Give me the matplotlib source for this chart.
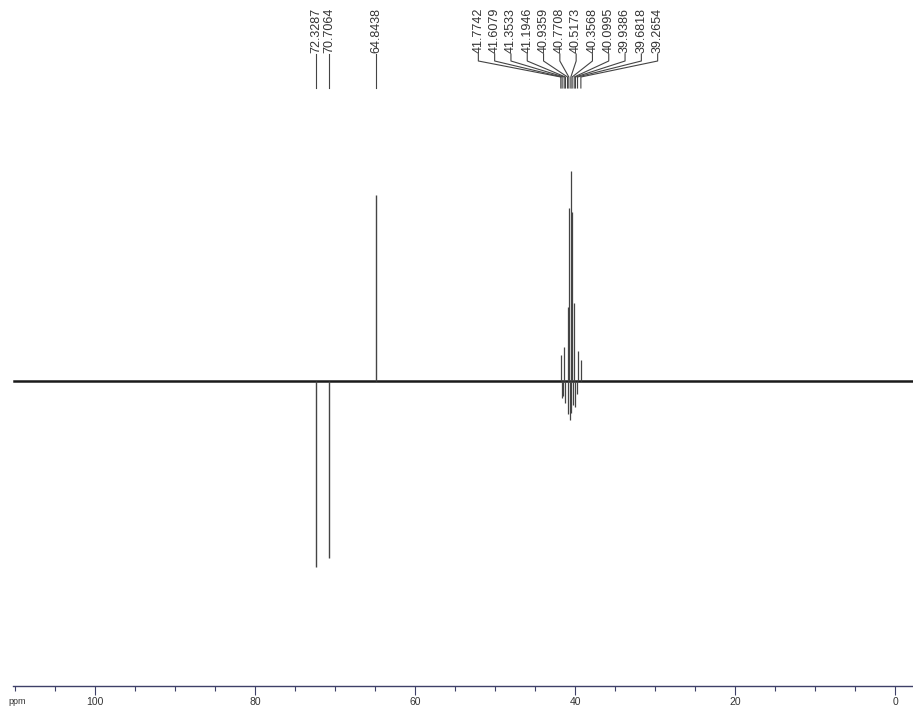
import matplotlib
matplotlib.use("Agg")
import matplotlib.pyplot as plt
from matplotlib.ticker import MultipleLocator

plt.rcParams["font.family"] = ["Liberation Sans", "DejaVu Sans"]

# single resonances (ppm, relative intensity; DEPT phase gives the sign)
single_ppm = [72.3287, 70.7064, 64.8438]
single_int = [-100, -95, 100]

# solvent multiplet, labelled lines
multi_ppm = [41.7742, 41.6079, 41.3533, 41.1946, 40.9359, 40.7708,
             40.5173, 40.3568, 40.0995, 39.9386, 39.6818, 39.2654]
multi_int = [14, -9, 18, -12, 40, 93, 113, 91, 42, -14, 16, 11]
# unlabelled negative components of the multiplet
neg_ppm = [41.45, 40.85, 40.64, 40.45, 40.22, 39.80]
neg_int = [-8, -18, -21, -17, -13, -7]

INK = "#1a1a1a"
LINE = "#444444"
AXIS = "#3e4068"
TXT = "#333333"

W, H = 913, 711
fig = plt.figure(figsize=(W / 100, H / 100), dpi=100)
fig.patch.set_facecolor("white")
ax = fig.add_axes([13 / W, 25 / H, 900 / W, 686 / H])
ax.set_xlim(110.25, -2.25)
ax.set_ylim(-164, 204.8)

for s in ("left", "right", "top"):
    ax.spines[s].set_visible(False)
ax.spines["bottom"].set_color(AXIS)
ax.spines["bottom"].set_linewidth(1.0)
ax.set_yticks([])
ax.xaxis.set_major_locator(MultipleLocator(20))
ax.xaxis.set_minor_locator(MultipleLocator(5))
ax.tick_params(axis="x", which="major", length=6.5, width=0.8, pad=1.5,
               labelsize=7.5, color=AXIS, labelcolor=TXT)
ax.tick_params(axis="x", which="minor", length=3.6, width=0.8, color=AXIS)
fig.text(17 / W, 1 - 701 / H, "ppm", fontsize=6.5, color=TXT,
         ha="center", va="center")

# baseline (noisy-looking, so a heavy stroke)
ax.axhline(0, xmin=0.001, xmax=1, color=INK, lw=1.8, zorder=2)

# peaks
ax.vlines(single_ppm, 0, single_int, color=LINE, lw=1.0, zorder=3)
ax.vlines(multi_ppm, 0, multi_int, color=LINE, lw=0.9, zorder=3)
ax.vlines(neg_ppm, 0, neg_int, color=LINE, lw=0.9, zorder=3)

# peak labels at the top
tr = ax.get_xaxis_transform()


def yf(ypix):
    return (686 - ypix) / 686


def px2ppm(xpix):
    return (895 - xpix) / 8


for p in single_ppm:
    ax.text(p, yf(53), "%.4f" % p, rotation=90, ha="center", va="bottom",
            fontsize=9, color=TXT, transform=tr)
    ax.plot([p, p], [yf(54), yf(88)], color=LINE, lw=0.8, transform=tr,
            clip_on=False)

n = len(multi_ppm)
lab_center = px2ppm(568)
lab_step = 16.3 / 8
for i, p in enumerate(multi_ppm):
    lx = lab_center + (n / 2 - 0.5 - i) * lab_step
    ax.text(lx, yf(53), "%.4f" % p, rotation=90, ha="center", va="bottom",
            fontsize=9, color=TXT, transform=tr)
    ax.plot([lx, lx, p, p], [yf(54), yf(61), yf(77), yf(88)], color=LINE,
            lw=0.8, transform=tr, clip_on=False)

fig.savefig("out.png", dpi=100, facecolor="white")
